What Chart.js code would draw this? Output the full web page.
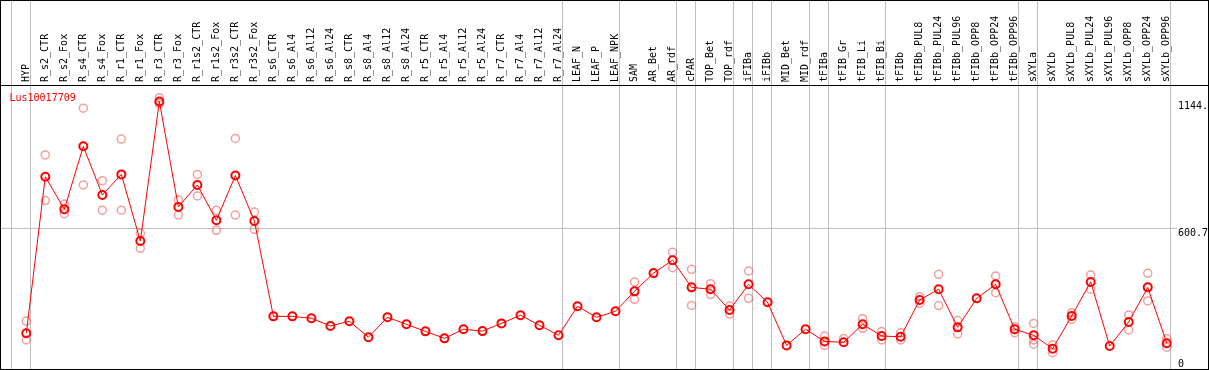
<!DOCTYPE html>
<html><head><meta charset="utf-8">
<script src="https://cdn.jsdelivr.net/npm/chart.js@4/dist/chart.umd.min.js"></script>
<style>
html,body{margin:0;padding:0;background:#fff;}
#wrap{position:absolute;left:0;top:0;width:1209px;height:370px;box-sizing:border-box;border:1px solid #000;background:#fff;}
canvas{display:block;}
</style></head><body>
<div id="wrap"><canvas id="c" width="1207" height="368"></canvas></div>
<script>
const title = 'Lus10017709';
const categories = ['HYP','R_s2_CTR','R_s2_Fox','R_s4_CTR','R_s4_Fox','R_r1_CTR','R_r1_Fox','R_r3_CTR','R_r3_Fox','R_r1s2_CTR','R_r1s2_Fox','R_r3s2_CTR','R_r3s2_Fox','R_s6_CTR','R_s6_Al4','R_s6_Al12','R_s6_Al24','R_s8_CTR','R_s8_Al4','R_s8_Al12','R_s8_Al24','R_r5_CTR','R_r5_Al4','R_r5_Al12','R_r5_Al24','R_r7_CTR','R_r7_Al4','R_r7_Al12','R_r7_Al24','LEAF_N','LEAF_P','LEAF_NPK','SAM','AR_Bet','AR_rdf','cPAR','TOP_Bet','TOP_rdf','iFIBa','iFIBb','MID_Bet','MID_rdf','tFIBa','tFIB_Gr','tFIB_Li','tFIB_Bi','tFIBb','tFIBb_PUL8','tFIBb_PUL24','tFIBb_PUL96','tFIBb_OPP8','tFIBb_OPP24','tFIBb_OPP96','sXYLa','sXYLb','sXYLb_PUL8','sXYLb_PUL24','sXYLb_PUL96','sXYLb_OPP8','sXYLb_OPP24','sXYLb_OPP96'];
const means = [153,822,683,952,744,832,547,1144,693,787,636,827,633,225,225,217,184,204,136,221,191,161,131,170,162,195,230,187,144,268,221,247,332,410,465,349,341,252,362,285,101,170,118,114,191,141,138,295,341,178,302,362,170,144,87,227,372,98,201,349,110];
const rep1 = [205,915,705,1115,805,983,580,1160,723,832,679,986,671,null,null,null,null,null,null,null,null,null,null,null,null,null,null,null,null,null,null,null,372,null,499,426,365,269,419,null,null,null,141,130,215,160,155,309,405,207,null,398,181,195,103,241,402,null,231,409,130];
const rep2 = [124,720,664,787,679,679,516,1135,658,740,593,658,597,null,null,null,null,null,null,null,null,null,null,null,null,null,null,null,null,null,null,null,298,null,433,272,318,235,302,null,null,null,101,null,174,124,124,281,271,150,null,326,155,124,70,212,341,null,167,291,93];
const rep3 = [null,null,null,null,null,null,null,null,null,null,null,null,null,null,null,null,null,null,null,null,null,null,null,null,null,null,null,null,null,null,null,null,null,null,null,null,null,null,null,null,null,null,null,null,null,null,null,null,null,null,null,null,null,106,null,null,null,null,null,null,null];
// last category index of each group (-1 = left edge)
const groupEnds = [-1,0,28,31,34,35,37,38,39,41,42,45,52,53,60];
const yTickValues = [0, 600.7, 1144];
const yTickLabels = ['0', '600.7', '1144.'];

const FONT = 'DejaVu Sans Mono';
const GRID = '#c0c0c0';
const toPts = arr => arr.map((v, i) => v == null ? null : {x: i, y: v}).filter(p => p);

const repStyle = {
  showLine: false, pointRadius: 4, pointBorderWidth: 1.5,
  pointBorderColor: 'rgba(232,80,80,0.55)', pointBackgroundColor: 'rgba(0,0,0,0)',
  borderColor: 'rgba(232,80,80,0.55)', order: 1
};

const framePlugin = {
  id: 'frame',
  afterDraw(chart) {
    const ctx = chart.ctx, a = chart.chartArea;
    ctx.save();
    ctx.fillStyle = '#000';
    ctx.fillRect(0, Math.round(a.top), chart.width, 1);
    ctx.font = '10px "' + FONT + '"';
    ctx.fillStyle = '#ff0000';
    ctx.textBaseline = 'alphabetic';
    ctx.textAlign = 'left';
    ctx.fillText(title, a.left + 8.5, a.top + 15.7);
    ctx.restore();
  }
};

const noPad = s => { s.paddingTop = 0; s.paddingBottom = 0; s.paddingLeft = 0; s.paddingRight = 0; };

new Chart(document.getElementById('c'), {
  type: 'line',
  data: {
    datasets: [
      {
        data: toPts(means), borderColor: '#ff0000', borderWidth: 1, tension: 0,
        pointRadius: 4, pointBorderWidth: 2, pointBorderColor: '#ff0000',
        pointBackgroundColor: 'rgba(0,0,0,0)', order: 0
      },
      Object.assign({data: toPts(rep1)}, repStyle),
      Object.assign({data: toPts(rep2)}, repStyle),
      Object.assign({data: toPts(rep3)}, repStyle)
    ]
  },
  options: {
    responsive: false, animation: false, devicePixelRatio: 1, events: [],
    layout: {padding: 0, autoPadding: false},
    plugins: {legend: {display: false}, tooltip: {enabled: false}, title: {display: false}},
    scales: {
      x: {
        type: 'linear', position: 'top', min: -1.331, max: 60.54,
        afterBuildTicks: s => {
          const t = categories.map((_, i) => ({value: i}));
          groupEnds.forEach(e => t.push({value: e + 0.21}));
          t.sort((a, b) => a.value - b.value);
          s.ticks = t;
        },
        afterFit: s => { s.height = 84; noPad(s); },
        grid: {
          drawOnChartArea: true, drawTicks: true, tickLength: 84, lineWidth: 1,
          color: c => (c.tick && !Number.isInteger(c.tick.value)) ? GRID : 'rgba(0,0,0,0)',
          tickColor: c => (c.tick && !Number.isInteger(c.tick.value)) ? GRID : 'rgba(0,0,0,0)'
        },
        border: {display: false},
        ticks: {
          autoSkip: false, minRotation: 90, maxRotation: 90, padding: -81, labelOffset: 12,
          color: '#000', font: {family: FONT, size: 10},
          callback: v => Number.isInteger(v) ? categories[v] : ''
        }
      },
      y: {
        type: 'linear', position: 'right', min: 0, max: 1214.2,
        afterBuildTicks: s => { s.ticks = yTickValues.map(v => ({value: v})); },
        afterFit: s => { s.width = 31; noPad(s); },
        grid: {
          drawTicks: false, lineWidth: 1,
          color: c => (c.tick && c.tick.value === yTickValues[1]) ? GRID : 'rgba(0,0,0,0)'
        },
        border: {display: false},
        ticks: {
          padding: 1, color: '#000', font: {family: FONT, size: 10, lineHeight: 1},
          callback: (v, i) => v === 0 ? [yTickLabels[i], ''] : ['', yTickLabels[i]]
        }
      }
    }
  },
  plugins: [framePlugin]
});
</script>
</body></html>
